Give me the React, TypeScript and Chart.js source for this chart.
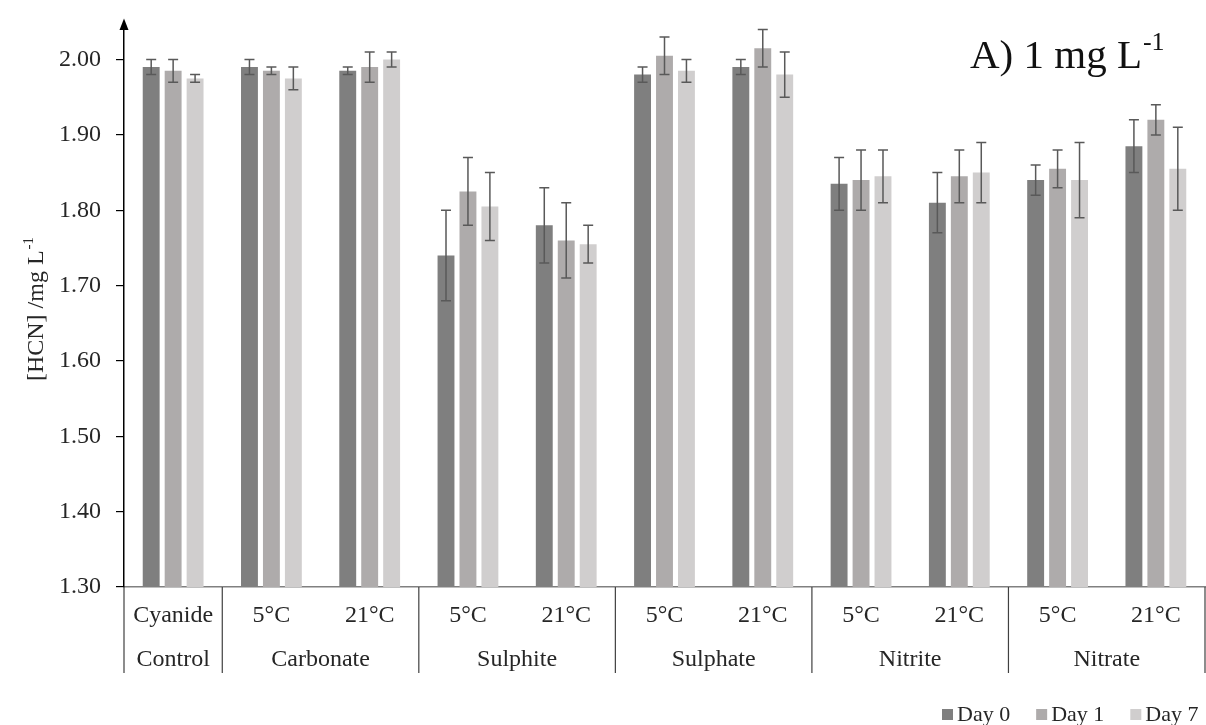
import React, { useEffect, useRef } from "react";
import { Chart, registerables } from "chart.js";

Chart.register(...registerables);

const subLabels = ["Cyanide", "5°C", "21°C", "5°C", "21°C", "5°C", "21°C", "5°C", "21°C", "5°C", "21°C"];
const groupLabels = ["Control", "Carbonate", "Sulphite", "Sulphate", "Nitrite", "Nitrate"];
const groupSpans = [1, 2, 2, 2, 2, 2];

const day0 = [1.99, 1.99, 1.985, 1.74, 1.78, 1.98, 1.99, 1.835, 1.81, 1.84, 1.885];
const day0Err = [0.01, 0.01, 0.005, 0.06, 0.05, 0.01, 0.01, 0.035, 0.04, 0.02, 0.035];
const day1 = [1.985, 1.985, 1.99, 1.825, 1.76, 2.005, 2.015, 1.84, 1.845, 1.855, 1.92];
const day1Err = [0.015, 0.005, 0.02, 0.045, 0.05, 0.025, 0.025, 0.04, 0.035, 0.025, 0.02];
const day7 = [1.975, 1.975, 2.0, 1.805, 1.755, 1.985, 1.98, 1.845, 1.85, 1.84, 1.855];
const day7Err = [0.005, 0.015, 0.01, 0.045, 0.025, 0.015, 0.03, 0.035, 0.04, 0.05, 0.055];

const seriesNames = ["Day 0", "Day 1", "Day 7"];
const seriesColors = ["#7f7f7f", "#aeabab", "#d0cece"];
const yTicks = [1.3, 1.4, 1.5, 1.6, 1.7, 1.8, 1.9, 2.0];

const FONT = "'Liberation Serif', 'Times New Roman', serif";
const TEXT = "#262626";

const overlay = {
  id: "overlay",
  afterDatasetsDraw(chart: any) {
    const ctx = chart.ctx;
    const y = chart.scales.y;
    const errs = [day0Err, day1Err, day7Err];
    ctx.save();
    ctx.strokeStyle = "#595959";
    ctx.lineWidth = 1.5;
    chart.data.datasets.forEach((ds: any, di: number) => {
      const meta = chart.getDatasetMeta(di);
      meta.data.forEach((bar: any, i: number) => {
        const v = ds.data[i];
        const e = errs[di][i];
        const yt = y.getPixelForValue(v + e);
        const yb = y.getPixelForValue(v - e);
        const x = bar.x;
        ctx.beginPath();
        ctx.moveTo(x, yt);
        ctx.lineTo(x, yb);
        ctx.moveTo(x - 5, yt);
        ctx.lineTo(x + 5, yt);
        ctx.moveTo(x - 5, yb);
        ctx.lineTo(x + 5, yb);
        ctx.stroke();
      });
    });
    ctx.restore();
  },
  afterDraw(chart: any) {
    const ctx = chart.ctx;
    const area = chart.chartArea;
    const xs = chart.scales.x;
    const n = subLabels.length;
    const catW = (area.right - area.left) / n;
    ctx.save();
    // arrow
    ctx.fillStyle = "#000";
    ctx.beginPath();
    ctx.moveTo(area.left, area.top - 11);
    ctx.lineTo(area.left - 4.5, area.top + 0.5);
    ctx.lineTo(area.left + 4.5, area.top + 0.5);
    ctx.closePath();
    ctx.fill();

    // sub labels
    ctx.fillStyle = TEXT;
    ctx.font = `24px ${FONT}`;
    ctx.textAlign = "center";
    ctx.textBaseline = "middle";
    subLabels.forEach((l, i) => {
      ctx.fillText(l, xs.getPixelForValue(i), area.bottom + 29);
    });
    // group labels and separators
    ctx.strokeStyle = "#404040";
    ctx.lineWidth = 1.2;
    let idx = 0;
    const drawSep = (x: number) => {
      ctx.beginPath();
      ctx.moveTo(x, area.bottom);
      ctx.lineTo(x, area.bottom + 86);
      ctx.stroke();
    };
    drawSep(area.left);
    groupLabels.forEach((g, gi) => {
      const x0 = area.left + idx * catW;
      const x1 = area.left + (idx + groupSpans[gi]) * catW;
      ctx.fillText(g, (x0 + x1) / 2, area.bottom + 73);
      drawSep(x1);
      idx += groupSpans[gi];
    });

    // legend
    ctx.font = `22px ${FONT}`;
    ctx.textAlign = "left";
    let lx = 942;
    const ly = 715;
    seriesNames.forEach((s, i) => {
      ctx.fillStyle = seriesColors[i];
      ctx.fillRect(lx, ly - 6, 11, 11);
      ctx.fillStyle = TEXT;
      ctx.fillText(s, lx + 15, ly);
      lx += 15 + ctx.measureText(s).width + 26;
    });

    // title
    ctx.textBaseline = "alphabetic";
    ctx.font = `41px ${FONT}`;
    ctx.fillStyle = "#111";
    const t = "A) 1 mg L";
    ctx.fillText(t, 970, 68);
    const tw = ctx.measureText(t).width;
    ctx.font = `26px ${FONT}`;
    ctx.fillText("-1", 970 + tw + 1, 50);

    // y title
    ctx.translate(35, 309);
    ctx.rotate(-Math.PI / 2);
    ctx.font = `24px ${FONT}`;
    const yt = "[HCN] /mg L";
    const ytw = ctx.measureText(yt).width;
    ctx.font = `15px ${FONT}`;
    const sw = ctx.measureText("-1").width;
    const total = ytw + sw + 1;
    ctx.font = `24px ${FONT}`;
    ctx.fillStyle = TEXT;
    ctx.fillText(yt, -total / 2, 8);
    ctx.font = `15px ${FONT}`;
    ctx.fillText("-1", -total / 2 + ytw + 1, -2);
    ctx.restore();
  },
};

export default function App() {
  const ref = useRef<HTMLCanvasElement>(null);
  useEffect(() => {
    if (!ref.current) return;
    const chart = new Chart(ref.current, {
      type: "bar",
      data: {
        labels: subLabels,
        datasets: [day0, day1, day7].map((d, i) => ({
          label: seriesNames[i],
          data: d,
          backgroundColor: seriesColors[i],
          borderWidth: 0,
          categoryPercentage: 0.67,
          barPercentage: 0.77,
        })),
      },
      options: {
        responsive: false,
        animation: false,
        layout: { padding: { left: 0, right: 1, top: 23, bottom: 0 } },
        plugins: { legend: { display: false }, tooltip: { enabled: false } },
        scales: {
          x: {
            grid: { display: false },
            ticks: { display: false },
            border: { display: true, color: "#808080", width: 1.5 },
            afterFit: (s: any) => {
              s.height = 138;
            },
          },
          y: {
            min: 1.3,
            max: 2.04,
            afterBuildTicks: (s: any) => {
              s.ticks = yTicks.map((v) => ({ value: v }));
            },
            afterFit: (s: any) => {
              s.width = 124;
            },
            grid: { drawOnChartArea: false, drawTicks: true, tickLength: 8, color: "#000", lineWidth: 1.2 },
            border: { display: true, color: "#000", width: 1.5 },
            ticks: {
              padding: 15,
              color: TEXT,
              font: { family: FONT, size: 24 },
              callback: (v: any) => Number(v).toFixed(2),
            },
          },
        },
      },
      plugins: [overlay],
    });
    return () => chart.destroy();
  }, []);
  return (
    <div style={{ position: "absolute", left: 0, top: 0, width: 1206, height: 725, background: "#fff" }}>
      <canvas ref={ref} width={1206} height={725} />
    </div>
  );
}
